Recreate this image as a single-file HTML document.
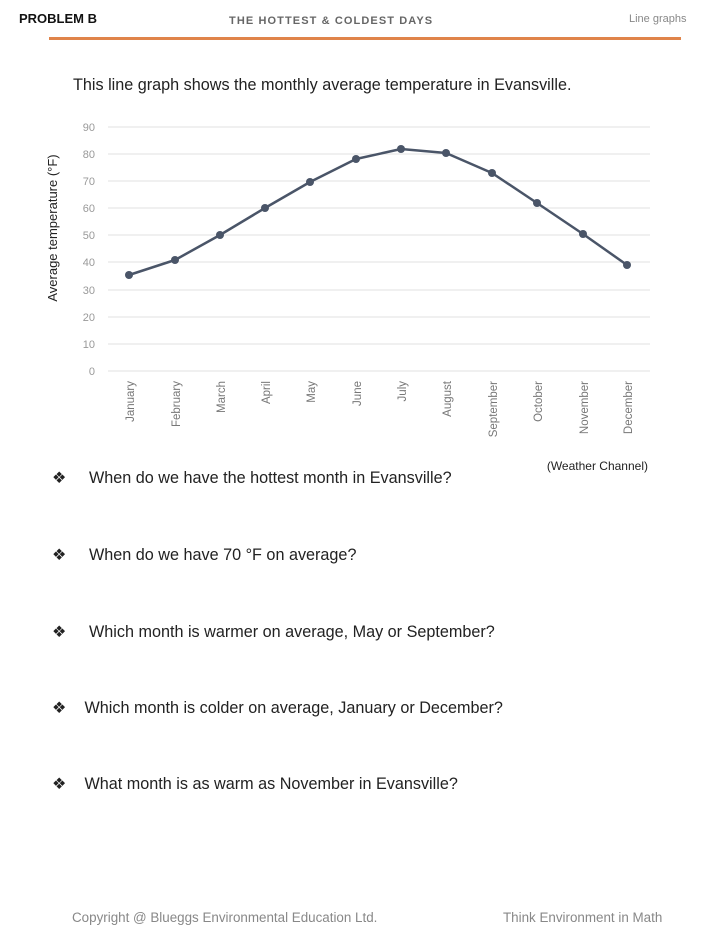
<!DOCTYPE html>
<html><head><meta charset="utf-8"><style>
body{margin:0;width:720px;height:932px;background:#fff;position:relative;font-family:"Liberation Sans",sans-serif;overflow:hidden}
.a{position:absolute;white-space:nowrap}
.q{position:absolute;font-size:16.2px;color:#222}
</style></head><body>
<div class="a" style="left:19px;top:11px;font-weight:bold;font-size:13px;color:#111">PROBLEM B</div>
<div class="a" style="left:229px;top:15px;font-weight:bold;font-size:11px;color:#666;letter-spacing:1.1px">THE HOTTEST &amp; COLDEST DAYS</div>
<div class="a" style="left:629px;top:13px;font-size:11px;color:#888">Line graphs</div>
<div class="a" style="left:49px;top:37px;width:632px;height:3px;background:#e0844a"></div>
<div class="a" style="left:73px;top:76px;font-size:16.2px;color:#222">This line graph shows the monthly average temperature in Evansville.</div>
<svg class="a" style="left:0;top:0" width="720" height="480">
<g stroke="#e2e2e2" stroke-width="1">
<line x1="108" x2="650" y1="127" y2="127"/><line x1="108" x2="650" y1="154" y2="154"/><line x1="108" x2="650" y1="181" y2="181"/><line x1="108" x2="650" y1="208" y2="208"/><line x1="108" x2="650" y1="235" y2="235"/><line x1="108" x2="650" y1="262" y2="262"/><line x1="108" x2="650" y1="290" y2="290"/><line x1="108" x2="650" y1="317" y2="317"/><line x1="108" x2="650" y1="344" y2="344"/><line x1="108" x2="650" y1="371" y2="371"/>
</g>
<g font-family="Liberation Sans" font-size="11" fill="#999" text-anchor="end">
<text x="95" y="131">90</text><text x="95" y="158">80</text><text x="95" y="185">70</text><text x="95" y="212">60</text><text x="95" y="239">50</text><text x="95" y="266">40</text><text x="95" y="294">30</text><text x="95" y="321">20</text><text x="95" y="348">10</text><text x="95" y="375">0</text>
</g>
<text transform="translate(57,228) rotate(-90)" text-anchor="middle" font-family="Liberation Sans" font-size="13" fill="#222">Average temperature  (°F)</text>
<g font-family="Liberation Sans" font-size="11.5" fill="#777" text-anchor="end">
<text transform="translate(134,381) rotate(-90)">January</text>
<text transform="translate(180,381) rotate(-90)">February</text>
<text transform="translate(225,381) rotate(-90)">March</text>
<text transform="translate(270,381) rotate(-90)">April</text>
<text transform="translate(315,381) rotate(-90)">May</text>
<text transform="translate(361,381) rotate(-90)">June</text>
<text transform="translate(406,381) rotate(-90)">July</text>
<text transform="translate(451,381) rotate(-90)">August</text>
<text transform="translate(497,381) rotate(-90)">September</text>
<text transform="translate(542,381) rotate(-90)">October</text>
<text transform="translate(588,381) rotate(-90)">November</text>
<text transform="translate(632,381) rotate(-90)">December</text>
</g>
<polyline fill="none" stroke="#4a5568" stroke-width="2.5" stroke-linejoin="round" points="129,275 175,260 220,235 265,208 310,182 356,159 401,149 446,153 492,173 537,203 583,234 627,265"/>
<g fill="#4a5568">
<circle cx="129" cy="275" r="4"/><circle cx="175" cy="260" r="4"/><circle cx="220" cy="235" r="4"/><circle cx="265" cy="208" r="4"/><circle cx="310" cy="182" r="4"/><circle cx="356" cy="159" r="4"/><circle cx="401" cy="149" r="4"/><circle cx="446" cy="153" r="4"/><circle cx="492" cy="173" r="4"/><circle cx="537" cy="203" r="4"/><circle cx="583" cy="234" r="4"/><circle cx="627" cy="265" r="4"/>
</g>
<text x="648" y="470" text-anchor="end" font-family="Liberation Sans" font-size="12" fill="#222">(Weather Channel)</text>
</svg>
<div class="q" style="left:52px;top:468px">❖&nbsp;&nbsp;&nbsp;&nbsp; When do we have the hottest month in Evansville?</div>
<div class="q" style="left:52px;top:545px">❖&nbsp;&nbsp;&nbsp;&nbsp; When do we have 70 °F on average?</div>
<div class="q" style="left:52px;top:622px">❖&nbsp;&nbsp;&nbsp;&nbsp; Which month is warmer on average, May or September?</div>
<div class="q" style="left:52px;top:698px">❖&nbsp;&nbsp;&nbsp; Which month is colder on average, January or December?</div>
<div class="q" style="left:52px;top:774px">❖&nbsp;&nbsp;&nbsp; What month is as warm as November in Evansville?</div>
<div class="a" style="left:72px;top:910px;font-size:13.4px;color:#888">Copyright @ Blueggs Environmental Education Ltd.</div>
<div class="a" style="left:503px;top:910px;font-size:13.4px;color:#888">Think Environment in Math</div>
</body></html>
